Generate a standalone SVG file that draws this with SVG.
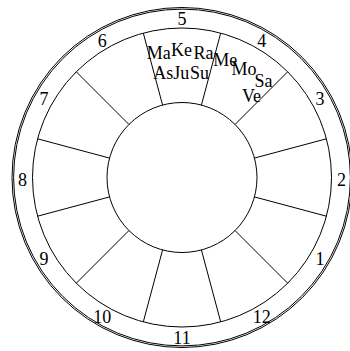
<svg xmlns="http://www.w3.org/2000/svg" width="350" height="351" viewBox="0 0 350 351">
<style>
.c{fill:none;stroke:#000;stroke-width:1}
.s{stroke:#000;stroke-width:1}
text{font-family:"Liberation Serif","Times New Roman",serif;font-size:18px;fill:#000;text-anchor:middle}
</style>
<rect width="350" height="351" fill="#fff"/>
<g id="rings">
<circle class="c" cx="182" cy="177.5" r="170"/>
<circle class="c" cx="182" cy="177.5" r="168.4"/>
<circle class="c" cx="182" cy="177.5" r="149.5"/>
<circle class="c" cx="182" cy="177.5" r="75"/>
</g>
<g id="connectors">
<line class="s" x1="254.44" y1="158.09" x2="326.41" y2="138.81"/>
<line class="s" x1="235.03" y1="124.47" x2="287.71" y2="71.79"/>
<line class="s" x1="201.41" y1="105.06" x2="220.69" y2="33.09"/>
<line class="s" x1="162.59" y1="105.06" x2="143.31" y2="33.09"/>
<line class="s" x1="128.97" y1="124.47" x2="76.29" y2="71.79"/>
<line class="s" x1="109.56" y1="158.09" x2="37.59" y2="138.81"/>
<line class="s" x1="109.56" y1="196.91" x2="37.59" y2="216.19"/>
<line class="s" x1="128.97" y1="230.53" x2="76.29" y2="283.21"/>
<line class="s" x1="162.59" y1="249.94" x2="143.31" y2="321.91"/>
<line class="s" x1="201.41" y1="249.94" x2="220.69" y2="321.91"/>
<line class="s" x1="235.03" y1="230.53" x2="287.71" y2="283.21"/>
<line class="s" x1="254.44" y1="196.91" x2="326.41" y2="216.19"/>
</g>
<g id="house1"><text x="320.1" y="264.7">1</text></g>
<g id="house2"><text x="341.5" y="185.5">2</text></g>
<g id="house3"><text x="320.1" y="105.2">3</text></g>
<g id="house4"><text x="261.8" y="46.9">4</text>
<text x="225.3" y="66">Me</text>
<text x="244" y="75">Mo</text>
<text x="263.5" y="87.3">Sa</text>
<text x="251.5" y="101.5">Ve</text>
</g>
<g id="house5"><text x="182" y="25.3">5</text>
<text x="158.7" y="59">Ma</text>
<text x="181.5" y="55.7">Ke</text>
<text x="203.5" y="59">Ra</text>
<text x="163.3" y="79">As</text>
<text x="181.3" y="79">Ju</text>
<text x="199.5" y="79">Su</text>
</g>
<g id="house6"><text x="102.2" y="46.9">6</text></g>
<g id="house7"><text x="43.9" y="105.2">7</text></g>
<g id="house8"><text x="22.5" y="185.5">8</text></g>
<g id="house9"><text x="43.9" y="264.7">9</text></g>
<g id="house10"><text x="102.2" y="323">10</text></g>
<g id="house11"><text x="182" y="344">11</text></g>
<g id="house12"><text x="261.8" y="323">12</text></g>
</svg>
